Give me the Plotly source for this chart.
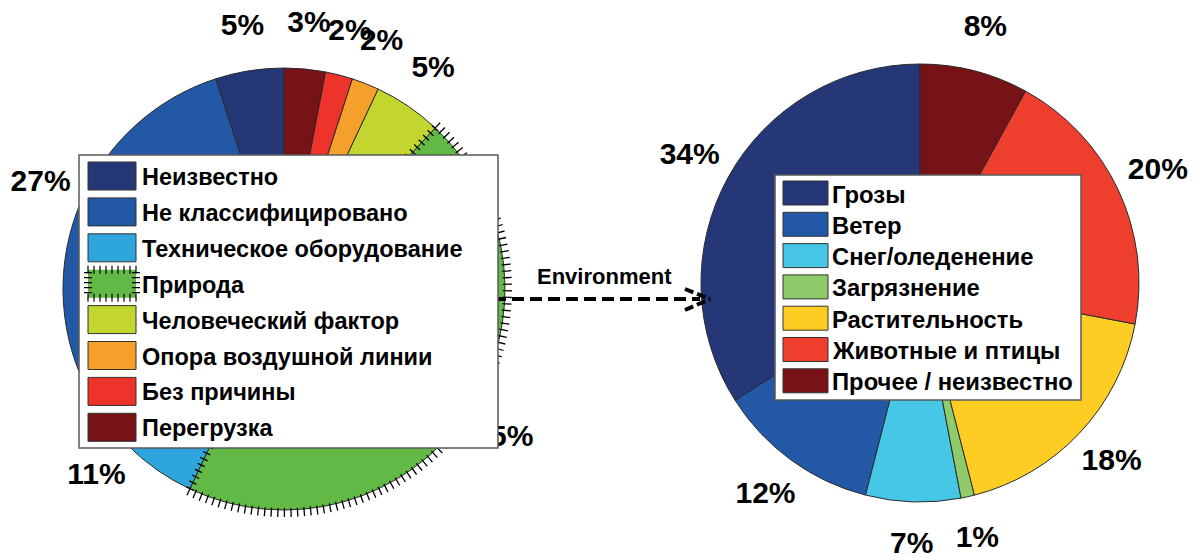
import math
import plotly.graph_objects as go

# ---- data ---------------------------------------------------------------
causes = ["Неизвестно", "Не классифицировано", "Техническое оборудование", "Природа",
          "Человеческий фактор", "Опора воздушной линии", "Без причины", "Перегрузка"]
cause_share = [5, 27, 11, 45, 5, 2, 2, 3]
cause_colors = ["#253777", "#2358a6", "#2ea6dd", "#62b946",
                "#c3d52f", "#f6a02c", "#ee332b", "#771217"]

env_causes = ["Грозы", "Ветер", "Снег/оледенение", "Загрязнение",
              "Растительность", "Животные и птицы", "Прочее / неизвестно"]
env_share = [34, 12, 7, 1, 18, 20, 8]
env_colors = ["#253777", "#2358a6", "#46c7e6", "#8fcb6a",
              "#fecd23", "#ee3e2d", "#771217"]

hatched_cause = "Природа"
link_label = "Environment"

# ---- geometry (pixels) --------------------------------------------------
W, H = 1197, 560
FONT = "Liberation Sans, Arial, sans-serif"
LEFT = dict(cx=284, cy=289, r=221)
RIGHT = dict(cx=920, cy=283, r=219)


def domain(p):
    return dict(x=[(p["cx"] - p["r"]) / W, (p["cx"] + p["r"]) / W],
                y=[(H - p["cy"] - p["r"]) / H, (H - p["cy"] + p["r"]) / H])


def point(p, rad, frac):
    """Pixel position at radius `rad`, `frac` of a turn counter-clockwise from 12 o'clock."""
    a = 2 * math.pi * frac
    return p["cx"] - rad * math.sin(a), p["cy"] - rad * math.cos(a)


def mid_fracs(values):
    total = float(sum(values))
    out, acc = [], 0.0
    for v in values:
        out.append((acc + v / 2) / total)
        acc += v
    return out


fig = go.Figure()

# percentage labels (drawn on the pixel-space axes, beneath the pies)
for p, vals in ((LEFT, cause_share), (RIGHT, env_share)):
    pts = [point(p, 1.2 * p["r"], f) for f in mid_fracs(vals)]
    fig.add_trace(go.Scatter(
        x=[q[0] for q in pts], y=[q[1] for q in pts], mode="text",
        text=[f"{v}%" for v in vals], hoverinfo="skip", showlegend=False,
        textfont=dict(family=FONT, size=30, color="black", weight="bold")))

for p, labels, vals, cols in ((LEFT, causes, cause_share, cause_colors),
                              (RIGHT, env_causes, env_share, env_colors)):
    # counter-clockwise pies in plotly end their first slice at the rotation
    # angle, so turn back by the first slice to start it at 12 o'clock
    rot = -360.0 * vals[0] / sum(vals)
    fig.add_trace(go.Pie(
        labels=labels, values=vals, sort=False, direction="counterclockwise",
        rotation=rot, textinfo="none", hoverinfo="label+percent",
        marker=dict(colors=cols, line=dict(color="#2a2a2a", width=1)),
        domain=domain(p), showlegend=False))

shapes = []

# tick-mark hatching along the border of the "Природа" slice
k = causes.index(hatched_cause)
f0 = sum(cause_share[:k]) / sum(cause_share)
f1 = sum(cause_share[:k + 1]) / sum(cause_share)
r = LEFT["r"]
segs = []
n_arc = int(2 * math.pi * r * (f1 - f0) / 6.5)
for i in range(n_arc + 1):
    f = f0 + (f1 - f0) * i / n_arc
    a = point(LEFT, r - 2, f)
    b = point(LEFT, r + 7, f)
    segs.append(f"M{a[0]:.1f},{a[1]:.1f}L{b[0]:.1f},{b[1]:.1f}")
for f in (f0, f1):
    ang = 2 * math.pi * f
    vx, vy = math.cos(ang), -math.sin(ang)
    d = 6.0
    while d < r:
        c = point(LEFT, d, f)
        segs.append(f"M{c[0] - 4 * vx:.1f},{c[1] - 4 * vy:.1f}"
                    f"L{c[0] + 4 * vx:.1f},{c[1] + 4 * vy:.1f}")
        d += 6.5
shapes.append(dict(type="path", xref="x", yref="y", path="".join(segs),
                   line=dict(color="black", width=1.3), layer="above"))

# dashed link arrow between the two pies
ay = 299
shapes.append(dict(type="line", xref="x", yref="y", x0=458, y0=ay, x1=700, y1=ay,
                   line=dict(color="black", width=4, dash="12px,6px"), layer="above"))
for dy in (-10, 11):
    shapes.append(dict(type="line", xref="x", yref="y", x0=685, y0=ay + dy, x1=710, y1=ay,
                       line=dict(color="black", width=4, dash="9px,4px"), layer="above"))

annotations = [dict(x=604, y=276, xref="x", yref="y", text=link_label, showarrow=False,
                    font=dict(family=FONT, size=22, color="black", weight="bold"),
                    xanchor="center", yanchor="middle")]


def legend(labels, cols, box, sw, first_top, step, text_x, size):
    x0, y0, x1, y1 = box
    shapes.append(dict(type="rect", xref="x", yref="y", x0=x0, y0=y0, x1=x1, y1=y1,
                       fillcolor="white", line=dict(color="#5a5a5a", width=1.5),
                       layer="above"))
    sx0, sx1, sh = sw
    for i, (lab, col) in enumerate(zip(labels, cols)):
        ty = first_top + i * step
        if lab == hatched_cause:
            shapes.append(dict(type="rect", xref="x", yref="y", x0=sx0, y0=ty,
                               x1=sx1, y1=ty + sh, fillcolor=col,
                               line=dict(width=0), layer="above"))
            tk = []
            xx = sx0
            while xx <= sx1 + 0.1:
                tk.append(f"M{xx:.1f},{ty - 4:.1f}L{xx:.1f},{ty + 4:.1f}")
                tk.append(f"M{xx:.1f},{ty + sh - 4:.1f}L{xx:.1f},{ty + sh + 4:.1f}")
                xx += 6
            yy = ty + 3
            while yy <= ty + sh - 2:
                tk.append(f"M{sx0 - 4:.1f},{yy:.1f}L{sx0 + 4:.1f},{yy:.1f}")
                tk.append(f"M{sx1 - 4:.1f},{yy:.1f}L{sx1 + 4:.1f},{yy:.1f}")
                yy += 5
            shapes.append(dict(type="path", xref="x", yref="y", path="".join(tk),
                               line=dict(color="black", width=1.2), layer="above"))
        else:
            shapes.append(dict(type="rect", xref="x", yref="y", x0=sx0, y0=ty,
                               x1=sx1, y1=ty + sh, fillcolor=col,
                               line=dict(color="#333333", width=1), layer="above"))
        annotations.append(dict(x=text_x, y=ty + sh / 2 + 1, xref="x", yref="y",
                                text=lab, showarrow=False, xanchor="left",
                                yanchor="middle",
                                font=dict(family=FONT, size=size, color="black",
                                          weight="bold")))


legend(causes, cause_colors, (79, 155, 498, 448), (88, 136, 28), 162, 35.9, 140, 23.5)
legend(env_causes, env_colors, (775, 175, 1081, 400), (783, 828, 24), 181, 31.3, 830, 23.8)

fig.update_layout(
    width=W, height=H, margin=dict(l=0, r=0, t=0, b=0),
    paper_bgcolor="white", plot_bgcolor="rgba(0,0,0,0)",
    xaxis=dict(range=[0, W], domain=[0, 1], visible=False, fixedrange=True),
    yaxis=dict(range=[H, 0], domain=[0, 1], visible=False, fixedrange=True),
    shapes=shapes, annotations=annotations, showlegend=False,
)

fig.write_html("out.html")
